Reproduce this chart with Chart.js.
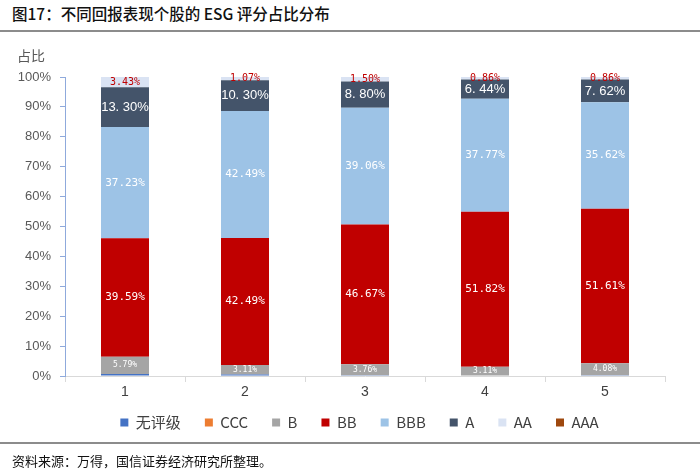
<!DOCTYPE html>
<html>
<head>
<meta charset="utf-8">
<script src="https://cdn.jsdelivr.net/npm/chart.js@4.4.1/dist/chart.umd.min.js"></script>
<style>
  html,body{margin:0;padding:0;background:#fff;}
  #wrap{position:relative;width:700px;height:474px;overflow:hidden;font-family:"Noto Sans CJK SC","Noto Sans",sans-serif;}
  #title{position:absolute;left:12px;top:2px;font-size:15.5px;color:#111;white-space:nowrap;font-weight:500;}
  #line1{position:absolute;left:0;top:30px;width:700px;height:2px;background:#8c8c8c;}
  #unit{position:absolute;left:17px;top:45px;font-size:14px;color:#595959;}
  #line2{position:absolute;left:0;top:442px;width:700px;height:2px;background:#8c8c8c;}
  #foot{position:absolute;left:12px;top:451px;font-size:13px;color:#111;white-space:nowrap;}
  #cv{position:absolute;left:0;top:36px;}
</style>
</head>
<body>
<div id="wrap">
  <canvas id="cv" width="700" height="419"></canvas>
  <div id="title">图17：不同回报表现个股的 ESG 评分占比分布</div>
  <div id="line1"></div>
  <div id="unit">占比</div>
  <div id="line2"></div>
  <div id="foot">资料来源：万得，国信证券经济研究所整理。</div>
</div>
<script>
const categories = ['1','2','3','4','5'];
const seriesNames = ['无评级','CCC','B','BB','BBB','A','AA','AAA'];
const noRating = [0.66, 0.54, 0.21, 0, 0.21];
const ccc = [0, 0, 0, 0, 0];
const ratingB = [5.79, 3.11, 3.76, 3.11, 4.08];
const ratingBB = [39.59, 42.49, 46.67, 51.82, 51.61];
const ratingBBB = [37.23, 42.49, 39.06, 37.77, 35.62];
const ratingA = [13.30, 10.30, 8.80, 6.44, 7.62];
const ratingAA = [3.43, 1.07, 1.50, 0.86, 0.86];
const aaa = [0, 0, 0, 0, 0];
const yTicks = [0,10,20,30,40,50,60,70,80,90,100];

const colors = ['#4472C4','#ED7D31','#A5A5A5','#C00000','#9DC3E6','#44546A','#DAE3F3','#9E480E'];
const values = [noRating, ccc, ratingB, ratingBB, ratingBBB, ratingA, ratingAA, aaa];
// label style per series: [fontSize, color, family] or null
const labelStyle = [
  null, null,
  [8, '#ffffff', '"DejaVu Sans Mono", monospace'],
  [11, '#ffffff', '"DejaVu Sans Mono", monospace'],
  [11, '#ffffff', '"DejaVu Sans Mono", monospace'],
  [13, '#ffffff', '"Liberation Sans", sans-serif'],
  [10, '#C00000', '"DejaVu Sans Mono", monospace'],
  null
];

const labelPlugin = {
  id: 'segLabels',
  afterLayout(chart) {
    const lg = chart.legend;
    if (lg) { lg.top -= 15; lg.bottom -= 15; lg.left += 22; lg.right += 22; }
  },
  afterDatasetsDraw(chart) {
    const ctx = chart.ctx;
    chart.data.datasets.forEach((ds, di) => {
      const st = labelStyle[di];
      if (!st) return;
      const meta = chart.getDatasetMeta(di);
      meta.data.forEach((el, i) => {
        const v = ds.data[i];
        if (!v) return;
        const p = el.getProps(['x','y','base'], true);
        const cy = (p.y + p.base) / 2;
        ctx.save();
        ctx.font = st[0] + 'px ' + st[2];
        ctx.fillStyle = st[1];
        ctx.textAlign = 'center';
        ctx.textBaseline = 'middle';
        let txt = v.toFixed(2) + '%';
        if (di === 5) txt = v.toFixed(2).replace('.', '. ') + '%';
        ctx.fillText(txt, p.x, cy);
        ctx.restore();
      });
    });
  }
};

new Chart(document.getElementById('cv'), {
  type: 'bar',
  data: {
    labels: categories,
    datasets: seriesNames.map((n, i) => ({
      label: n,
      data: values[i],
      backgroundColor: colors[i],
      borderWidth: 0,
      barPercentage: 0.4,
      categoryPercentage: 1.0
    }))
  },
  options: {
    responsive: false,
    animation: false,
    devicePixelRatio: 1,
    layout: { padding: { top: 41, left: 10, right: 35, bottom: 0 } },
    plugins: {
      legend: {
        position: 'bottom',
        labels: {
          boxWidth: 8, boxHeight: 8, padding: 24,
          color: '#404040',
          font: { size: 15, family: '"Noto Sans CJK SC","Liberation Sans",sans-serif' }
        }
      },
      tooltip: { enabled: false }
    },
    scales: {
      x: {
        stacked: true,
        grid: { display: true, drawOnChartArea: false, drawTicks: true, tickLength: 6, color: '#d9d9d9', offset: true },
        border: { display: true, color: '#d9d9d9', width: 1 },
        ticks: { color: '#404040', font: { size: 14, family: '"Liberation Sans",sans-serif' }, padding: 2 },
        afterFit(s) { s.height = 30; }
      },
      y: {
        stacked: true,
        min: 0, max: 100,
        afterBuildTicks(s) { s.ticks = yTicks.map(v => ({ value: v })); },
        grid: { display: true, drawOnChartArea: false, drawTicks: true, tickLength: 5, color: '#8FAADC' },
        border: { display: true, color: '#8FAADC', width: 1 },
        ticks: { color: '#595959', font: { size: 13, family: '"Liberation Sans",sans-serif' }, padding: 9, callback: v => v + '%' },
        afterFit(s) { s.width = 55; }
      }
    }
  },
  plugins: [labelPlugin]
});
</script>
</body>
</html>
